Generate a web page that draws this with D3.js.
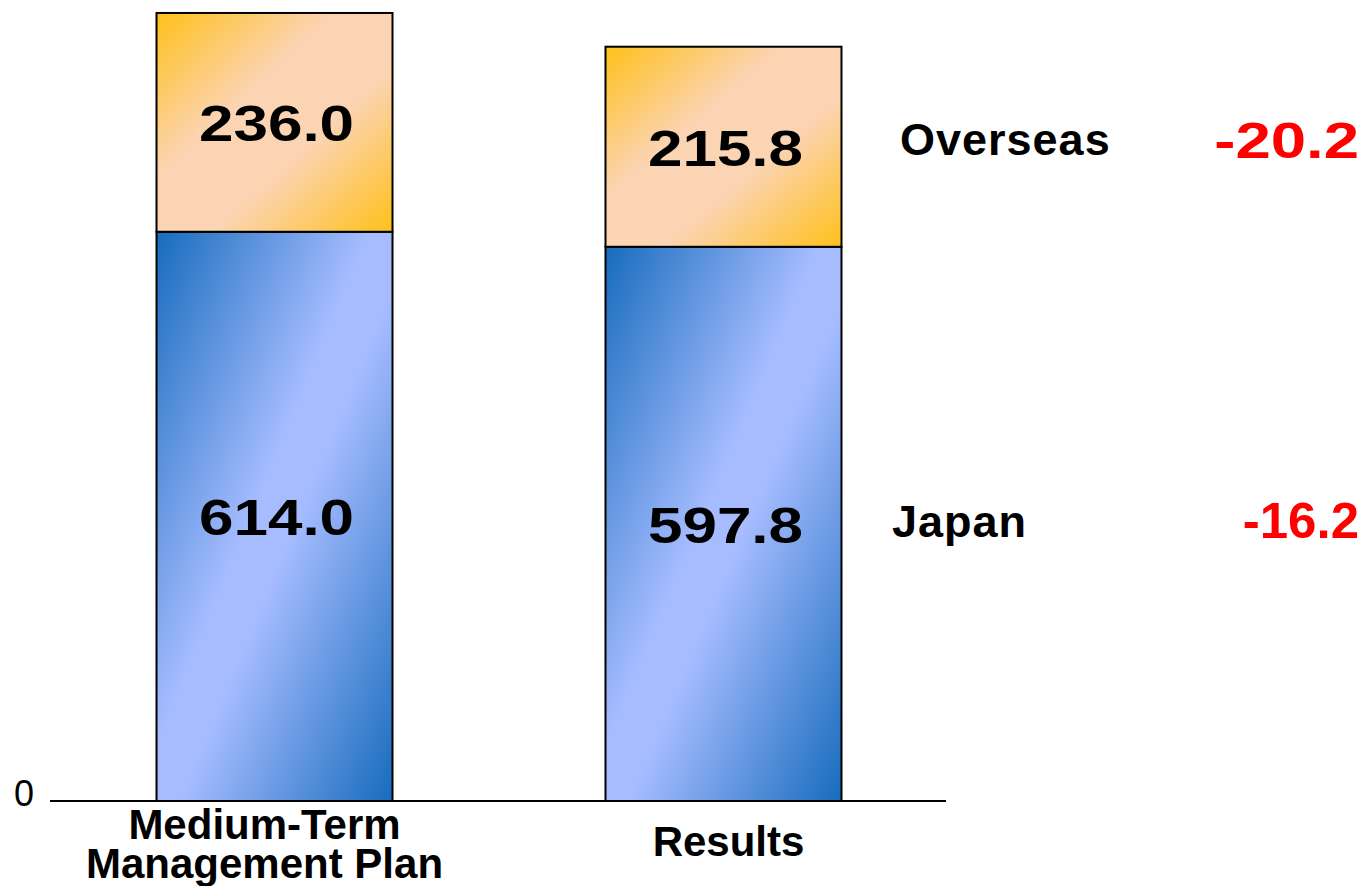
<!DOCTYPE html>
<html>
<head>
<meta charset="utf-8">
<script src="https://cdn.jsdelivr.net/npm/d3@7"></script>
<style>
  body { margin: 0; background: #fff; }
  svg text { font-family: "Liberation Sans", Arial, sans-serif; }
</style>
</head>
<body>
<svg id="chart" width="1366" height="886"></svg>
<script>
    // data
    var categories = ["Medium-Term\nManagement Plan", "Results"];
    var japan = [614.0, 597.8];
    var overseas = [236.0, 215.8];
    var seriesNames = ["Japan", "Overseas"];
    var changes = ["-16.2", "-20.2"];
    var tickLabels = [0];

    var svg = d3.select("#chart");
    var defs = svg.append("defs");

    function diagGradient(id, stops) {
        var g = defs.append("linearGradient")
            .attr("id", id)
            .attr("x1", 0).attr("y1", 0)
            .attr("x2", 1).attr("y2", 1);
        stops.forEach(function (s) {
            g.append("stop").attr("offset", s[0]).attr("stop-color", s[1]);
        });
    }
    diagGradient("gradBlue", [[0, "#176cbd"], [0.45, "#a6bcff"], [0.55, "#a6bcff"], [1, "#176cbd"]]);
    diagGradient("gradOrange", [[0, "#ffc01a"], [0.38, "#fbd4b4"], [0.62, "#fbd4b4"], [1, "#ffc01a"]]);

    var x = d3.scaleBand()
        .domain(categories)
        .range([51, 947])
        .paddingInner(0.4744)
        .paddingOuter(0.235);

    var y = d3.scaleLinear().domain([0, 864]).range([801, 0]);

    var rows = categories.map(function (c, i) {
        return { cat: c, japan: japan[i], overseas: overseas[i] };
    });
    var stack = d3.stack().keys(["japan", "overseas"])(rows);
    var fills = { japan: "url(#gradBlue)", overseas: "url(#gradOrange)" };

    // bars
    stack.forEach(function (layer) {
        svg.append("g").selectAll("rect")
            .data(layer)
            .enter()
            .append("rect")
            .attr("x", d => x(d.data.cat))
            .attr("y", d => y(d[1]))
            .attr("width", x.bandwidth())
            .attr("height", d => y(d[0]) - y(d[1]))
            .attr("fill", fills[layer.key])
            .attr("stroke", "#000")
            .attr("stroke-width", 2);
    });

    // value labels (the original type is stretched sideways)
    stack.forEach(function (layer) {
        svg.append("g").selectAll("text")
            .data(layer)
            .enter()
            .append("text")
            .attr("transform", d => "translate(" + (x(d.data.cat) + x.bandwidth() / 2 + 2) + "," +
                ((y(d[0]) + y(d[1])) / 2 + 19) + ") scale(1.24,1)")
            .attr("text-anchor", "middle")
            .style("font-size", "50px")
            .style("font-weight", "bold")
            .attr("fill", "#000")
            .text(d => (d[1] - d[0]).toFixed(1));
    });

    // baseline axis
    svg.append("line")
        .attr("x1", 50).attr("x2", 946)
        .attr("y1", y(0)).attr("y2", y(0))
        .attr("stroke", "#000")
        .attr("stroke-width", 2);

    svg.append("g").selectAll("text")
        .data(tickLabels)
        .enter()
        .append("text")
        .attr("x", 34)
        .attr("y", d => y(d) + 5)
        .attr("text-anchor", "end")
        .style("font-size", "36px")
        .text(d => d);

    // category labels
    var catText = svg.append("g").selectAll("text")
        .data(categories)
        .enter()
        .append("text")
        .attr("text-anchor", "middle")
        .style("font-size", "42px")
        .style("font-weight", "bold");

    catText.each(function (d) {
        var lines = d.split("\n");
        var t = d3.select(this);
        var cx = x(d) + x.bandwidth() / 2 - (lines.length > 1 ? 10 : -5);
        var startY = lines.length > 1 ? 839 : 856;
        t.selectAll("tspan")
            .data(lines)
            .enter()
            .append("tspan")
            .attr("x", cx)
            .attr("y", (l, j) => startY + j * 39)
            .text(l => l);
    });

    // series names and changes on the right
    var lastRow = stack.map(function (layer) { return layer[layer.length - 1]; });
    var nameX = [892, 900];
    svg.append("g").selectAll("text")
        .data(lastRow)
        .enter()
        .append("text")
        .attr("x", (d, i) => nameX[i])
        .attr("y", (d, i) => i === 0 ? 537 : 155)
        .style("font-size", "45px")
        .style("font-weight", "bold")
        .style("letter-spacing", "1px")
        .text((d, i) => seriesNames[i]);

    var changeStretch = [1.02, 1.27];
    svg.append("g").selectAll("text")
        .data(lastRow)
        .enter()
        .append("text")
        .attr("transform", (d, i) => "translate(1359," + (i === 0 ? 538 : 158) + ") scale(" + changeStretch[i] + ",1)")
        .attr("text-anchor", "end")
        .attr("fill", "#ff0000")
        .style("font-size", "50px")
        .style("font-weight", "bold")
        .text((d, i) => changes[i]);
</script>
</body>
</html>
